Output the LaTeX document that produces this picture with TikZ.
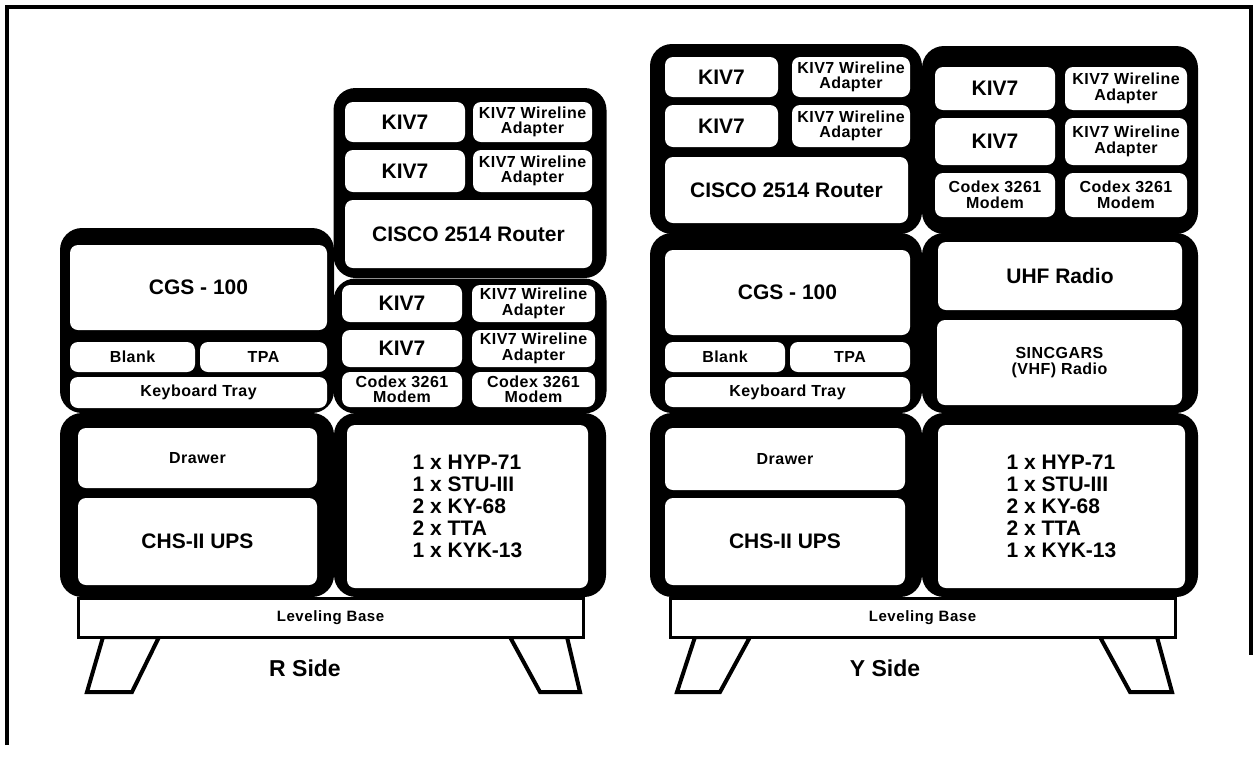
\documentclass[tikz,border=0pt]{standalone}
\usepackage{fontspec}
\setmainfont{Liberation Sans}
\usetikzlibrary{positioning}
\newcommand\lblbig{\fontsize{21}{22}\selectfont\bfseries}
\newcommand\lblmid{\fontsize{16}{15.5}\selectfont\bfseries\addfontfeature{LetterSpace=3}}
\newcommand\lblbase{\fontsize{15}{16}\selectfont\bfseries\addfontfeature{LetterSpace=4}}
\newcommand\lblside{\fontsize{23}{26}\selectfont\bfseries}

\begin{document}
\begin{tikzpicture}[x=1pt, y=-1pt,
    rack/.style={rectangle, rounded corners=22pt, fill=black, inner sep=0pt},
    unit/.style={rectangle, rounded corners=8pt, fill=white, inner sep=0pt,
                 align=center, font=\lblbig},
    slot/.style={unit, font=\lblmid},
    base/.style={rectangle, draw=black, line width=3pt, fill=white, inner sep=0pt,
                 minimum width=505, minimum height=39, font=\lblbase},
    leg/.style={draw=black, line width=4pt, fill=white, line join=miter},
    side/.style={font=\lblside}]

\useasboundingbox (0,0) rectangle (1257,764);

% Page frame -- open at the lower right as in the scan
\draw [line width=4pt] (7,745) -- (7,7) -- (1251,7) -- (1251,655);

% ---------------- R side ----------------
% Black rack cases
\node (rRtrRack) [rack, minimum width=273, minimum height=190] at (470,183) {};
\node (rKivRack) [rack, minimum width=273, minimum height=135] at (470,346) {};
\node (rCgsRack) [rack, minimum width=274, minimum height=185] at (197,320.5) {};
\node (rDrwRack) [rack, minimum width=274, minimum height=184] at (197,505) {};
\node (rItmRack) [rack, minimum width=272, minimum height=184] at (470,505) {};

% Upper right case
\node (rKiv1) [unit, minimum width=120, minimum height=40] at (405,122)   {KIV7};
\node (rAdp1) [slot, minimum width=119, minimum height=40] at (532.5,122) {KIV7 Wireline\\Adapter};
\node (rKiv2) [unit, minimum width=120, minimum height=42] at (405,171)   {KIV7};
\node (rAdp2) [slot, minimum width=119, minimum height=42] at (532.5,171) {KIV7 Wireline\\Adapter};
\node (rRtr)  [unit, minimum width=247, minimum height=68] at (468.5,234) {CISCO 2514 Router};

% Middle right case
\node (rKiv3) [unit, minimum width=120, minimum height=37] at (402,303.5)   {KIV7};
\node (rAdp3) [slot, minimum width=123, minimum height=37] at (533.5,303.5) {KIV7 Wireline\\Adapter};
\node (rKiv4) [unit, minimum width=120, minimum height=37] at (402,348.5)   {KIV7};
\node (rAdp4) [slot, minimum width=123, minimum height=37] at (533.5,348.5) {KIV7 Wireline\\Adapter};
\node (rCdx1) [slot, minimum width=120, minimum height=35] at (402,389.5)   {Codex 3261\\Modem};
\node (rCdx2) [slot, minimum width=123, minimum height=35] at (533.5,389.5) {Codex 3261\\Modem};

% Left case
\node (rCgs)   [unit, minimum width=257, minimum height=85] at (198.5,287.5) {CGS - 100};
\node (rBlank) [slot, minimum width=125, minimum height=30] at (132.5,357)   {Blank};
\node (rTpa)   [slot, minimum width=127, minimum height=30] at (263.5,357)   {TPA};
\node (rKbd)   [slot, minimum width=257, minimum height=31] at (198.5,392.5) {Keyboard Tray};

% Lower cases
\node (rDrw) [slot, minimum width=239, minimum height=60] at (197.5,458)   {Drawer};
\node (rUps) [unit, minimum width=239, minimum height=87] at (197.5,541.5) {CHS-II UPS};
\node (rItm) [unit, minimum width=241, minimum height=163, align=left] at (467.5,506.5)
    {1 x HYP-71\\1 x STU-III\\2 x KY-68\\2 x TTA\\1 x KYK-13};

% Base and legs
\draw [leg] (103,637) -- (159,637) -- (132,692) -- (87,692) -- cycle;
\draw [leg] (510,637) -- (567,637) -- (580,692) -- (540,692) -- cycle;
\node (rBase) [base] at (330.5,617.5) {Leveling Base};
\node (rSide) [side] at (305,668) {R Side};

% ---------------- Y side ----------------
% Black rack cases
\node (yRtrRack) [rack, minimum width=272, minimum height=190] at (786,139)   {};
\node (yKivRack) [rack, minimum width=276, minimum height=188] at (1060,140)  {};
\node (yCgsRack) [rack, minimum width=272, minimum height=180] at (786,323)   {};
\node (yRadRack) [rack, minimum width=276, minimum height=180] at (1060,323)  {};
\node (yDrwRack) [rack, minimum width=272, minimum height=184] at (786,505)   {};
\node (yItmRack) [rack, minimum width=276, minimum height=184] at (1060,505)  {};

% Upper left case
\node (yKiv1) [unit, minimum width=113, minimum height=40] at (721.5,77)  {KIV7};
\node (yAdp1) [slot, minimum width=118, minimum height=40] at (851,77)    {KIV7 Wireline\\Adapter};
\node (yKiv2) [unit, minimum width=113, minimum height=42] at (721.5,126) {KIV7};
\node (yAdp2) [slot, minimum width=118, minimum height=42] at (851,126)   {KIV7 Wireline\\Adapter};
\node (yRtr)  [unit, minimum width=243, minimum height=66] at (786.5,190) {CISCO 2514 Router};

% Upper right case
\node (yKiv3) [unit, minimum width=120, minimum height=43] at (995,88.5)   {KIV7};
\node (yAdp3) [slot, minimum width=122, minimum height=43] at (1126,88.5)  {KIV7 Wireline\\Adapter};
\node (yKiv4) [unit, minimum width=120, minimum height=47] at (995,141.5)  {KIV7};
\node (yAdp4) [slot, minimum width=122, minimum height=47] at (1126,141.5) {KIV7 Wireline\\Adapter};
\node (yCdx1) [slot, minimum width=120, minimum height=44] at (995,195)    {Codex 3261\\Modem};
\node (yCdx2) [slot, minimum width=122, minimum height=44] at (1126,195)   {Codex 3261\\Modem};

% Middle cases
\node (yCgs)   [unit, minimum width=245, minimum height=85] at (787.5,292.5) {CGS - 100};
\node (yBlank) [slot, minimum width=120, minimum height=30] at (725,357)     {Blank};
\node (yTpa)   [slot, minimum width=120, minimum height=30] at (850,357)     {TPA};
\node (yKbd)   [slot, minimum width=245, minimum height=30] at (787.5,392)   {Keyboard Tray};
\node (yUhf)   [unit, minimum width=244, minimum height=68] at (1060,276)    {UHF Radio};
\node (ySinc)  [slot, minimum width=245, minimum height=85] at (1059.5,362.5) {SINCGARS\\(VHF) Radio};

% Lower cases
\node (yDrw) [slot, minimum width=240, minimum height=62] at (785,459)   {Drawer};
\node (yUps) [unit, minimum width=240, minimum height=87] at (785,541.5) {CHS-II UPS};
\node (yItm) [unit, minimum width=247, minimum height=163, align=left] at (1061.5,506.5)
    {1 x HYP-71\\1 x STU-III\\2 x KY-68\\2 x TTA\\1 x KYK-13};

% Base and legs
\draw [leg] (695,637) -- (750,637) -- (720,692) -- (677,692) -- cycle;
\draw [leg] (1100,637) -- (1157,637) -- (1172,692) -- (1130,692) -- cycle;
\node (yBase) [base] at (922.5,617.5) {Leveling Base};
\node (ySide) [side] at (885,668) {Y Side};

\end{tikzpicture}
\end{document}
